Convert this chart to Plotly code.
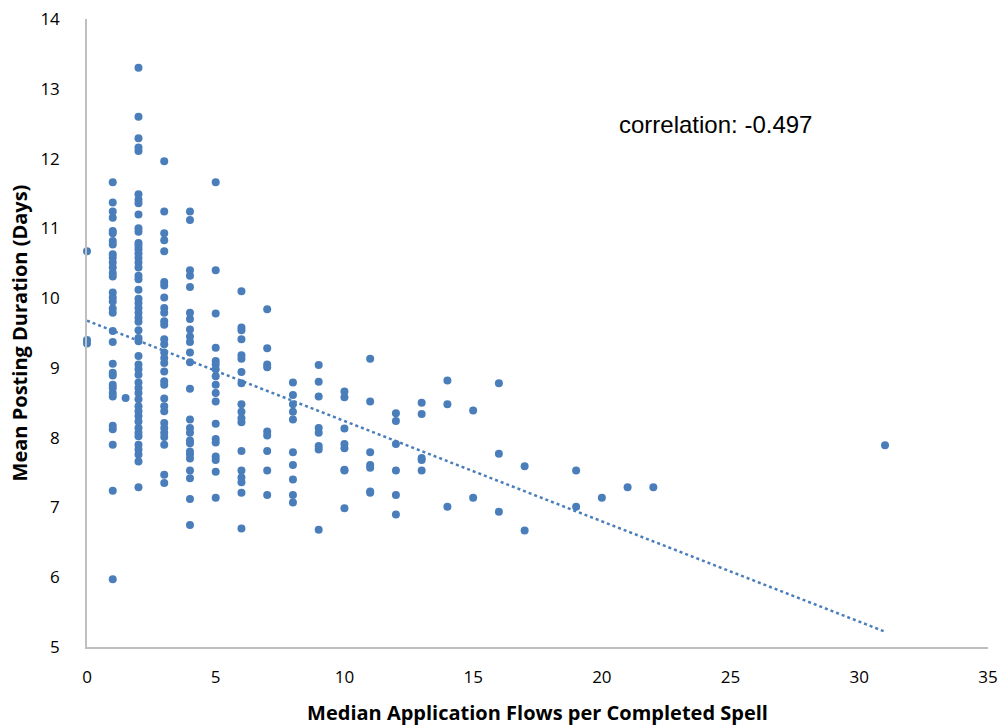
import numpy as np
import plotly.graph_objects as go

# Median application flows per completed spell (x) and mean posting duration in days (y)
flows = (
    [0] * 3 + [1] * 33 + [1.5] + [2] * 50 + [3] * 30 + [4] * 25 + [5] * 18 + [6] * 18
    + [7] * 9 + [8] * 10 + [9] * 8 + [10] * 8 + [11] * 7 + [12] * 6 + [13] * 5
    + [14] * 3 + [15] * 2 + [16] * 3 + [17] * 2 + [19] * 2 + [20] + [21] + [22] + [31]
)
durations = [
    # x = 0
    10.67, 9.40, 9.35,
    # x = 1
    11.66, 11.37, 11.24, 11.15, 10.96, 10.93, 10.82, 10.77, 10.63, 10.58, 10.51,
    10.44, 10.36, 10.31, 10.08, 10.01, 9.95, 9.85, 9.79, 9.53, 9.37, 9.06, 8.93,
    8.89, 8.76, 8.71, 8.64, 8.59, 8.17, 8.12, 7.90, 7.24, 5.97,
    # x = 1.5
    8.57,
    # x = 2
    13.30, 12.60, 12.29, 12.16, 12.11, 11.49, 11.41, 11.36, 11.20, 11.00, 10.95,
    10.79, 10.75, 10.70, 10.64, 10.58, 10.51, 10.44, 10.32, 10.27, 10.12, 9.99,
    9.93, 9.86, 9.79, 9.72, 9.66, 9.54, 9.43, 9.38, 9.17, 9.05, 8.98, 8.90, 8.79,
    8.71, 8.64, 8.55, 8.45, 8.38, 8.31, 8.23, 8.14, 8.07, 8.02, 7.90, 7.83, 7.76,
    7.66, 7.29,
    # x = 3
    11.96, 11.24, 10.93, 10.83, 10.67, 10.23, 10.18, 10.01, 9.86, 9.79, 9.67, 9.62,
    9.41, 9.34, 9.22, 9.14, 9.07, 8.95, 8.81, 8.76, 8.56, 8.45, 8.38, 8.21, 8.14,
    8.07, 8.01, 7.90, 7.47, 7.35,
    # x = 4
    11.24, 11.12, 10.40, 10.32, 10.16, 9.79, 9.70, 9.55, 9.45, 9.37, 9.22, 9.08,
    8.70, 8.26, 8.14, 8.07, 7.96, 7.92, 7.80, 7.76, 7.70, 7.53, 7.42, 7.12, 6.75,
    # x = 5
    11.66, 10.40, 9.78, 9.29, 9.10, 9.05, 8.98, 8.88, 8.76, 8.64, 8.52, 8.20, 7.98,
    7.93, 7.73, 7.68, 7.51, 7.14,
    # x = 6
    10.10, 9.58, 9.54, 9.41, 9.18, 9.13, 8.94, 8.78, 8.48, 8.37, 8.28, 8.22, 7.81,
    7.53, 7.43, 7.36, 7.21, 6.70,
    # x = 7
    9.84, 9.28, 9.05, 9.01, 8.09, 8.03, 7.81, 7.53, 7.18,
    # x = 8
    8.79, 8.61, 8.48, 8.37, 8.26, 7.79, 7.61, 7.40, 7.18, 7.07,
    # x = 9
    9.04, 8.80, 8.59, 8.14, 8.07, 7.88, 7.83, 6.68,
    # x = 10
    8.66, 8.58, 8.13, 7.91, 7.85, 7.54, 7.53, 6.99,
    # x = 11
    9.13, 8.52, 7.79, 7.61, 7.57, 7.23, 7.21,
    # x = 12
    8.35, 8.24, 7.91, 7.53, 7.18, 6.90,
    # x = 13
    8.50, 8.34, 7.71, 7.68, 7.53,
    # x = 14
    8.82, 8.48, 7.01,
    # x = 15
    8.39, 7.14,
    # x = 16
    8.78, 7.77, 6.94,
    # x = 17
    7.59, 6.67,
    # x = 19
    7.53, 7.01,
    # x = 20, 21, 22, 31
    7.14, 7.29, 7.29, 7.89,
]

x_ticks = [0, 5, 10, 15, 20, 25, 30, 35]
y_ticks = [5, 6, 7, 8, 9, 10, 11, 12, 13, 14]
annotation_text = "correlation: -0.497"

x = np.array(flows, dtype=float)
y = np.array(durations, dtype=float)
slope, intercept = np.polyfit(x, y, 1)
trend_x = np.linspace(x.min(), x.max(), 50)
trend_y = slope * trend_x + intercept

blue = "#4a7ebb"

fig = go.Figure()
fig.add_trace(go.Scatter(
    x=trend_x, y=trend_y, mode="lines",
    line=dict(color=blue, width=2.5, dash="dot"),
    hoverinfo="skip", showlegend=False, cliponaxis=False,
))
fig.add_trace(go.Scatter(
    x=flows, y=durations, mode="markers",
    marker=dict(color=blue, size=8, line=dict(width=0)),
    showlegend=False, cliponaxis=False,
))

tick_font = dict(family="Open Sans, Liberation Sans, sans-serif", size=17, color="#000000")
title_font = dict(family="Open Sans, Liberation Sans, sans-serif", size=20, color="#000000")

fig.update_layout(
    width=1001, height=726,
    margin=dict(l=87, r=13, t=19, b=79),
    paper_bgcolor="white", plot_bgcolor="white",
    xaxis=dict(
        range=[0, 35], tickvals=x_ticks, ticktext=[str(v) for v in x_ticks],
        showgrid=False, zeroline=False, showline=True, linecolor="#bfbfbf", linewidth=1.5,
        ticks="", tickfont=tick_font, ticklabelstandoff=14, automargin=False,
        title=dict(text="<b>Median Application Flows per Completed Spell</b>",
                   font=title_font, standoff=20),
    ),
    yaxis=dict(
        range=[5, 14], tickvals=y_ticks, ticktext=[str(v) for v in y_ticks],
        showgrid=False, zeroline=False, showline=True, linecolor="#bfbfbf", linewidth=1.5,
        ticks="", tickfont=tick_font, ticklabelstandoff=22, automargin=False,
        title=dict(text="<b>Mean Posting Duration (Days)</b>", font=title_font, standoff=7),
    ),
    annotations=[dict(
        x=24.4, y=12.49, xref="x", yref="y", text=annotation_text, showarrow=False,
        font=dict(family="Liberation Sans, Arial, sans-serif", size=24, color="#000000"),
    )],
)

fig.write_html("out.html", config={"displayModeBar": False})

# remove the browser's default page margin so the figure sits at the window's corner
with open("out.html", "r", encoding="utf-8") as f:
    page = f.read()
page = page.replace("<head>", "<head><style>html,body{margin:0;padding:0;overflow:hidden;}</style>", 1)
with open("out.html", "w", encoding="utf-8") as f:
    f.write(page)
